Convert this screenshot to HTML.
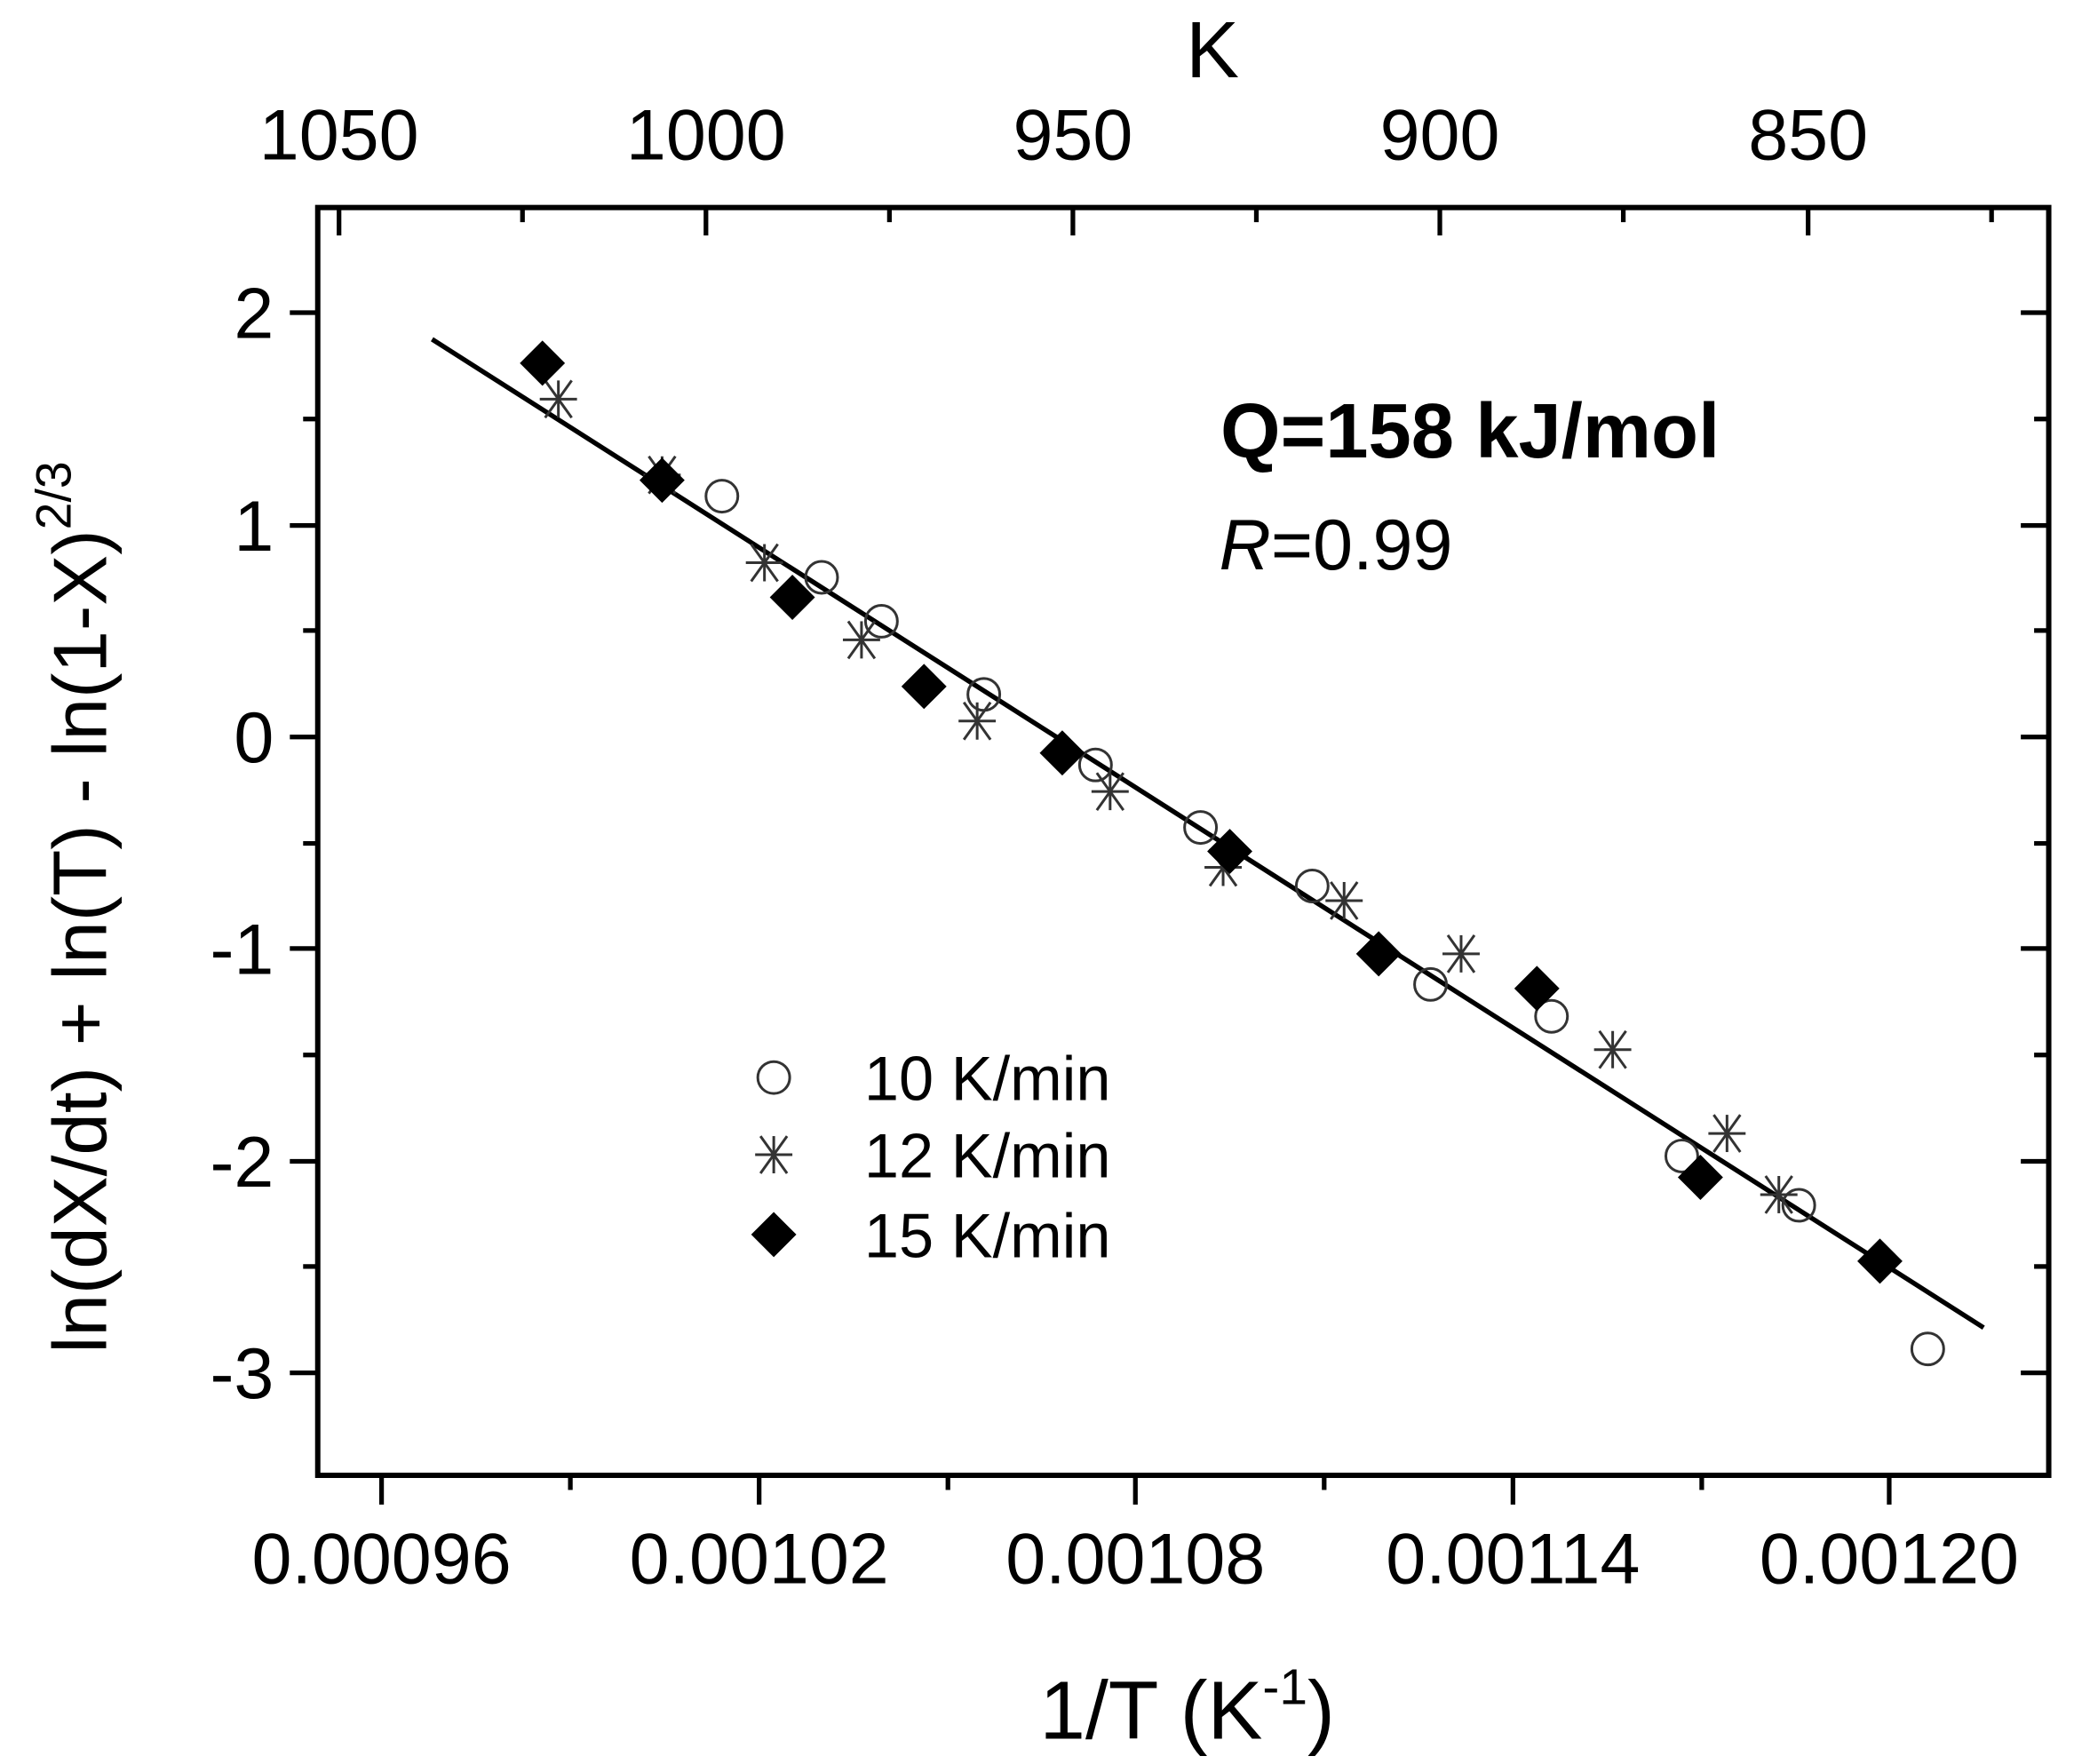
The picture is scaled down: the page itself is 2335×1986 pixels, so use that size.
<!DOCTYPE html>
<html><head><style>html,body{margin:0;padding:0;background:#fff}svg{display:block}</style></head><body>
<svg width="2335" height="1986" viewBox="0 0 1560 1326" preserveAspectRatio="none" xmlns="http://www.w3.org/2000/svg" font-family="Liberation Sans, Arial, sans-serif">
<g stroke="#000" stroke-width="4" fill="none">
<rect x="239" y="156" width="1302" height="953"/>
</g>
<g stroke="#000" stroke-width="3.5">
<line x1="218" y1="235" x2="239" y2="235"/><line x1="218" y1="395" x2="239" y2="395"/><line x1="218" y1="554" x2="239" y2="554"/><line x1="218" y1="713" x2="239" y2="713"/><line x1="218" y1="873" x2="239" y2="873"/><line x1="218" y1="1032" x2="239" y2="1032"/>
<line x1="228" y1="315" x2="239" y2="315"/><line x1="228" y1="474" x2="239" y2="474"/><line x1="228" y1="634" x2="239" y2="634"/><line x1="228" y1="793" x2="239" y2="793"/><line x1="228" y1="952" x2="239" y2="952"/>
<line x1="1520" y1="235" x2="1541" y2="235"/><line x1="1520" y1="395" x2="1541" y2="395"/><line x1="1520" y1="554" x2="1541" y2="554"/><line x1="1520" y1="713" x2="1541" y2="713"/><line x1="1520" y1="873" x2="1541" y2="873"/><line x1="1520" y1="1032" x2="1541" y2="1032"/>
<line x1="1530" y1="315" x2="1541" y2="315"/><line x1="1530" y1="474" x2="1541" y2="474"/><line x1="1530" y1="634" x2="1541" y2="634"/><line x1="1530" y1="793" x2="1541" y2="793"/><line x1="1530" y1="952" x2="1541" y2="952"/>
<line x1="287" y1="1109" x2="287" y2="1131"/><line x1="571" y1="1109" x2="571" y2="1131"/><line x1="854" y1="1109" x2="854" y2="1131"/><line x1="1138" y1="1109" x2="1138" y2="1131"/><line x1="1421" y1="1109" x2="1421" y2="1131"/>
<line x1="429" y1="1109" x2="429" y2="1120"/><line x1="713" y1="1109" x2="713" y2="1120"/><line x1="996" y1="1109" x2="996" y2="1120"/><line x1="1280" y1="1109" x2="1280" y2="1120"/>
<line x1="255" y1="156" x2="255" y2="177"/><line x1="531" y1="156" x2="531" y2="177"/><line x1="807" y1="156" x2="807" y2="177"/><line x1="1083" y1="156" x2="1083" y2="177"/><line x1="1360" y1="156" x2="1360" y2="177"/>
<line x1="393" y1="156" x2="393" y2="167"/><line x1="669" y1="156" x2="669" y2="167"/><line x1="945" y1="156" x2="945" y2="167"/><line x1="1221" y1="156" x2="1221" y2="167"/><line x1="1498" y1="156" x2="1498" y2="167"/>
<line x1="325" y1="255" x2="1492" y2="998" stroke-width="3.6"/>
</g>
<g font-size="54" fill="#000" text-anchor="end">
<text x="206" y="254">2</text><text x="206" y="414">1</text><text x="206" y="573">0</text><text x="206" y="732">-1</text><text x="206" y="892">-2</text><text x="206" y="1051">-3</text>
</g>
<g font-size="54" fill="#000" text-anchor="middle">
<text x="287" y="1190">0.00096</text><text x="571" y="1190">0.00102</text><text x="854" y="1190">0.00108</text><text x="1138" y="1190">0.00114</text><text x="1421" y="1190">0.00120</text>
<text x="255" y="120">1050</text><text x="531" y="120">1000</text><text x="807" y="120">950</text><text x="1083" y="120">900</text><text x="1360" y="120">850</text>
<text x="912" y="58" font-size="60">K</text>
<text x="893" y="1307" font-size="62">1/T (K<tspan font-size="38" dy="-26">-1</tspan><tspan dy="26">)</tspan></text>
</g>
<text transform="translate(80,682) rotate(-90)" text-anchor="middle" font-size="57" fill="#000">ln(dX/dt) + ln(T) - ln(1-X)<tspan font-size="37" dy="-27">2/3</tspan></text>
<text x="918" y="344" font-size="58" font-weight="bold" fill="#000">Q=158 kJ/mol</text>
<text x="917" y="428" font-size="54" fill="#000"><tspan font-style="italic">R</tspan>=0.99</text>
<defs>
<path id="d" d="M0,-17 L17,0 L0,17 L-17,0Z" fill="#000"/>
<circle id="c" r="12" fill="none" stroke="#333" stroke-width="2"/>
<g id="s" stroke="#333" stroke-width="2"><line x1="-14" y1="0" x2="14" y2="0"/><line x1="0" y1="-14" x2="0" y2="14"/><line x1="-10" y1="-14" x2="10" y2="14"/><line x1="10" y1="-14" x2="-10" y2="14"/></g>
</defs>
<g>
<use href="#c" x="543" y="373"/><use href="#c" x="618" y="434"/><use href="#c" x="663" y="467"/><use href="#c" x="740" y="522"/><use href="#c" x="824" y="575"/><use href="#c" x="903" y="622"/><use href="#c" x="987" y="666"/><use href="#c" x="1076" y="740"/><use href="#c" x="1167" y="764"/><use href="#c" x="1265" y="869"/><use href="#c" x="1353" y="906"/><use href="#c" x="1450" y="1014"/>
<use href="#s" x="420" y="300"/><use href="#s" x="498" y="357"/><use href="#s" x="575" y="423"/><use href="#s" x="648" y="481"/><use href="#s" x="735" y="542"/><use href="#s" x="835" y="595"/><use href="#s" x="920" y="652"/><use href="#s" x="1011" y="677"/><use href="#s" x="1099" y="717"/><use href="#s" x="1213" y="789"/><use href="#s" x="1299" y="852"/><use href="#s" x="1338" y="898"/>
<use href="#d" x="408" y="273"/><use href="#d" x="498" y="361"/><use href="#d" x="596" y="449"/><use href="#d" x="695" y="516"/><use href="#d" x="799" y="566"/><use href="#d" x="925" y="640"/><use href="#d" x="1037" y="717"/><use href="#d" x="1156" y="743"/><use href="#d" x="1279" y="885"/><use href="#d" x="1414" y="948"/>
<use href="#c" x="582" y="810"/><use href="#s" x="582" y="868"/><use href="#d" x="582" y="928"/>
</g>
<g font-size="47" fill="#000">
<text x="650" y="827">10 K/min</text><text x="650" y="885">12 K/min</text><text x="650" y="945">15 K/min</text>
</g>
</svg>
</body></html>
